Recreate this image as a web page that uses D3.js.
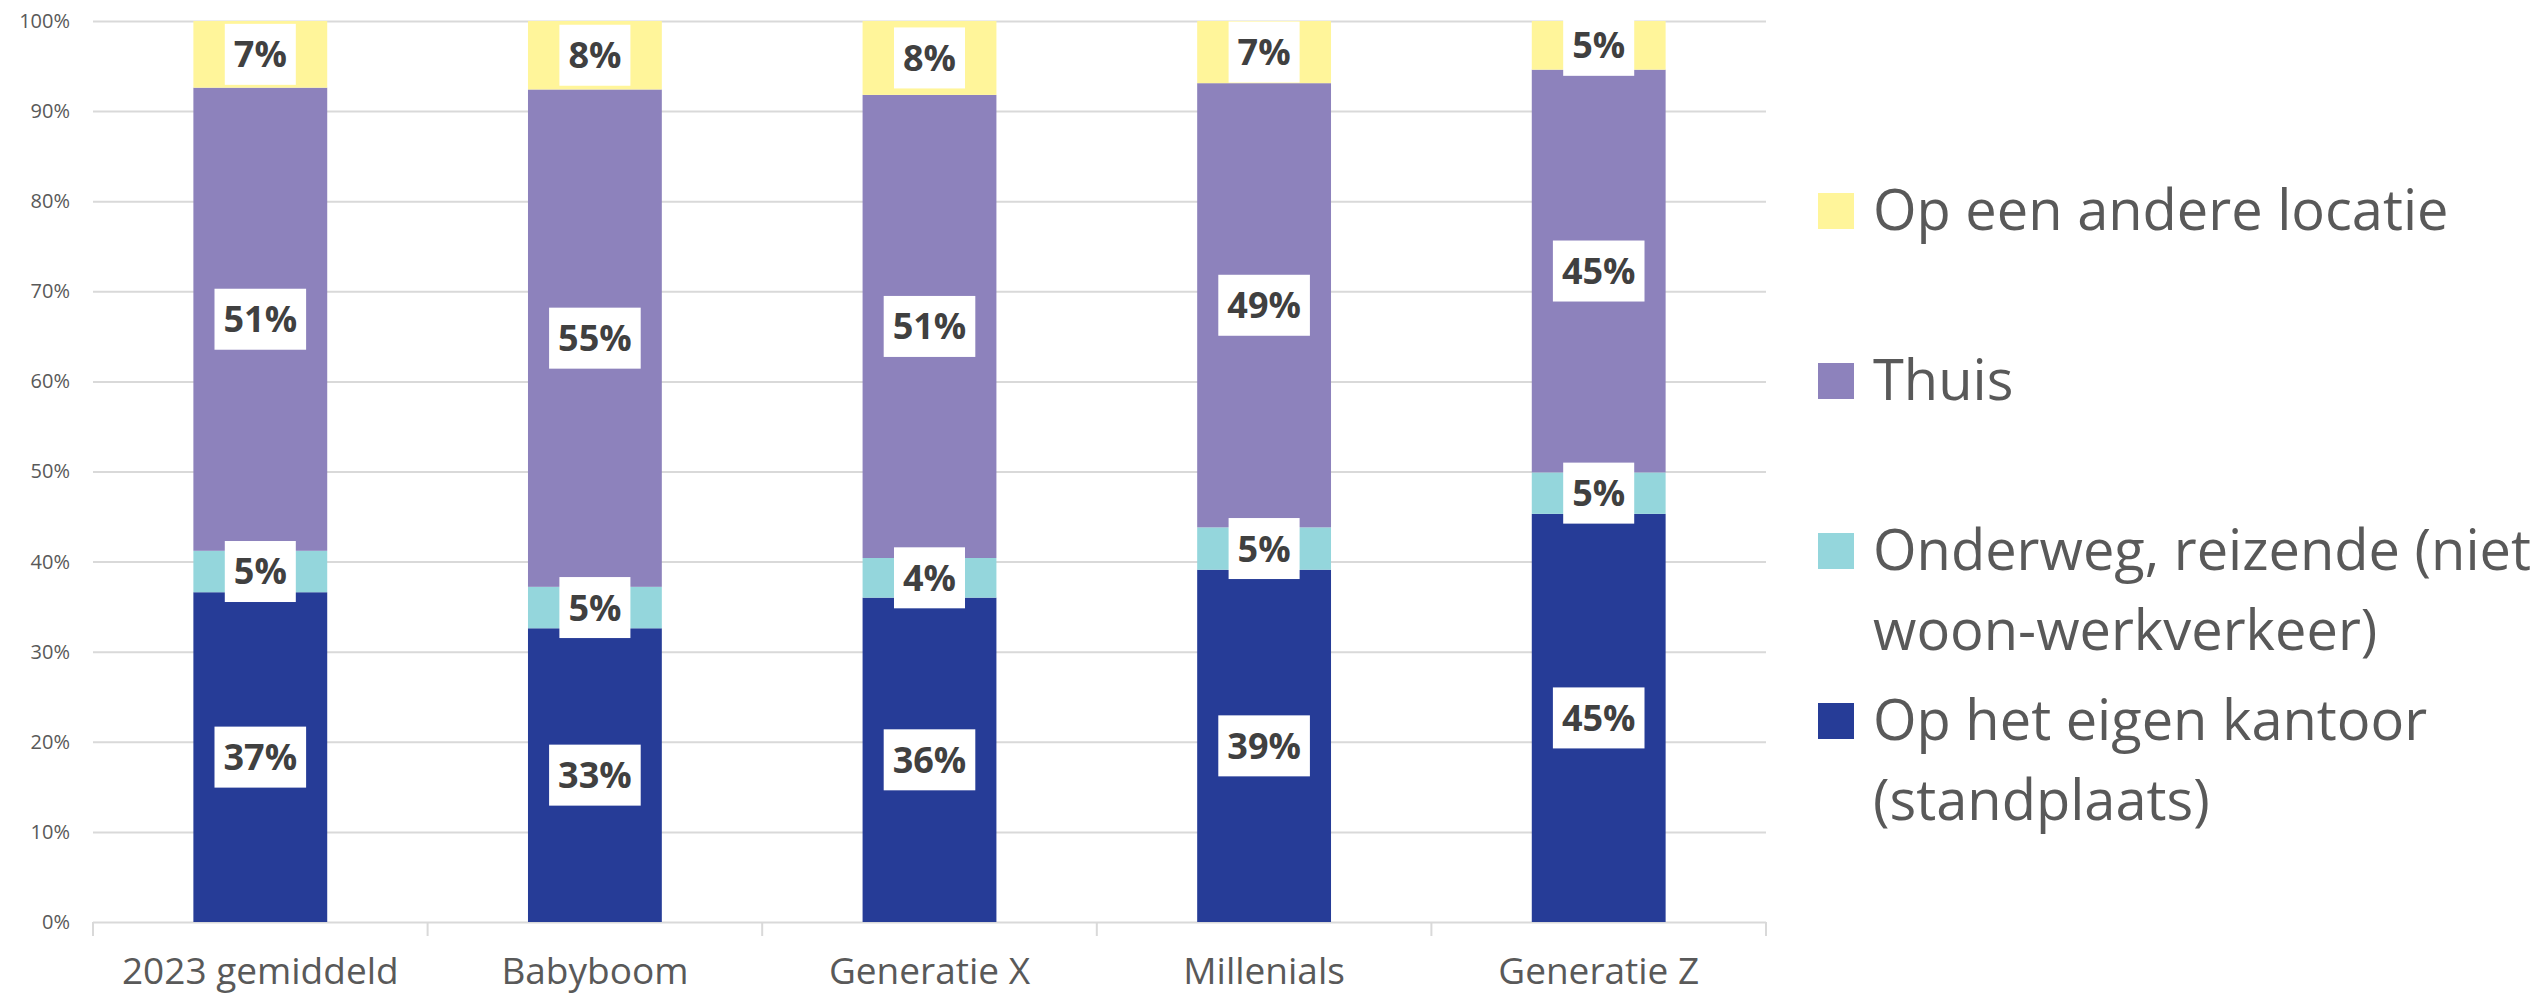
<!DOCTYPE html>
<html>
  <head>
    <meta charset="UTF-8" />
    <title>Werklocatie per generatie</title>
    <style>
      body { margin: 0; background: #fff; }
      svg { display: block; font-family: "Open Sans", sans-serif; }
    </style>
  </head>
  <body>
    <svg></svg>

    <script src="https://d3js.org/d3.v7.min.js"></script>
    <script>
      // data (percent of working time)
      const categories = ["2023 gemiddeld", "Babyboom", "Generatie X", "Millenials", "Generatie Z"];
      const seriesKeys = ["kantoor", "onderweg", "thuis", "andere"];
      const kantoor = [36.6, 32.6, 36.0, 39.1, 45.3];
      const onderweg = [4.6, 4.6, 4.4, 4.7, 4.6];
      const thuis = [51.4, 55.2, 51.4, 49.3, 44.7];
      const andere = [7.4, 7.6, 8.2, 6.9, 5.4];
      const yTicks = [0, 10, 20, 30, 40, 50, 60, 70, 80, 90, 100];

      // legend, top to bottom, with its line breaks
      const legendKeys = ["andere", "thuis", "onderweg", "kantoor"];
      const legendLines = [
        ["Op een andere locatie"],
        ["Thuis"],
        ["Onderweg, reizende (niet", "woon-werkverkeer)"],
        ["Op het eigen kantoor", "(standplaats)"],
      ];

      let width = 2542,
        height = 997;
      let svg = d3.select("svg").attr("width", width).attr("height", height);

      let rows = categories.map((c, i) => ({
        cat: c,
        kantoor: kantoor[i],
        onderweg: onderweg[i],
        thuis: thuis[i],
        andere: andere[i],
      }));

      let color = d3
        .scaleOrdinal()
        .domain(seriesKeys)
        .range(["#263c97", "#94d6dc", "#8d82bc", "#fff59a"]);

      let x = d3
        .scaleBand()
        .domain(categories)
        .range([93, 1766])
        .paddingInner(0.6)
        .paddingOuter(0.3);

      let y = d3.scaleLinear().domain([0, 100]).range([922, 21]);

      // gridlines + y labels
      let yAxis = svg
        .append("g")
        .attr("transform", "translate(93,0)")
        .call(
          d3
            .axisLeft(y)
            .tickValues(yTicks)
            .tickSize(-(1766 - 93))
            .tickPadding(23)
            .tickFormat((d) => d + "%")
        );
      yAxis.select(".domain").remove();
      yAxis.selectAll("line").attr("stroke", "#d9d9d9").attr("stroke-width", 2);
      yAxis
        .selectAll("text")
        .attr("fill", "#595959")
        .style("font-size", "20px")
        .style("font-family", "Open Sans, sans-serif");

      // category separators under the axis
      svg
        .append("g")
        .selectAll("line")
        .data(d3.range(categories.length + 1))
        .enter()
        .append("line")
        .attr("x1", (i) => x.range()[0] + i * x.step())
        .attr("x2", (i) => x.range()[0] + i * x.step())
        .attr("y1", y(0))
        .attr("y2", y(0) + 14)
        .attr("stroke", "#d9d9d9")
        .attr("stroke-width", 2);

      let stacked = d3.stack().keys(seriesKeys)(rows);

      let layers = svg
        .append("g")
        .selectAll("g")
        .data(stacked)
        .enter()
        .append("g")
        .attr("fill", (d) => color(d.key));

      layers
        .selectAll("rect")
        .data((d) => d)
        .enter()
        .append("rect")
        .attr("x", (d) => x(d.data.cat))
        .attr("width", x.bandwidth())
        .attr("y", (d) => y(d[1]))
        .attr("height", (d) => y(d[0]) - y(d[1]));

      // value labels in white boxes
      let labels = svg
        .append("g")
        .selectAll("g")
        .data(stacked.flatMap((s) => s.map((d) => ({ key: s.key, d: d }))))
        .enter()
        .append("g")
        .attr("transform", (o) => {
          let cx = x(o.d.data.cat) + x.bandwidth() / 2;
          let cy = (y(o.d[0]) + y(o.d[1])) / 2;
          return "translate(" + cx + "," + cy + ")";
        });

      labels
        .append("text")
        .attr("text-anchor", "middle")
        .attr("dy", "0.36em")
        .attr("fill", "#404040")
        .style("font-size", "36px")
        .style("font-weight", "bold")
        .text((o) => Math.round(o.d.data[o.key]) + "%");

      labels.each(function () {
        let g = d3.select(this);
        let w = g.select("text").node().getComputedTextLength();
        g.insert("rect", "text")
          .attr("x", -w / 2 - 9)
          .attr("y", -30.5)
          .attr("width", w + 18)
          .attr("height", 61)
          .attr("fill", "#fff");
      });

      // category labels
      svg
        .append("g")
        .selectAll("text")
        .data(categories)
        .enter()
        .append("text")
        .attr("x", (d) => x(d) + x.bandwidth() / 2)
        .attr("y", 984)
        .attr("text-anchor", "middle")
        .attr("fill", "#595959")
        .style("font-size", "37px")
        .text((d) => d);

      // legend
      let legend = svg
        .append("g")
        .selectAll("g")
        .data(legendKeys)
        .enter()
        .append("g")
        .attr("transform", (d, i) => "translate(1818," + (230 + i * 170) + ")");

      legend
        .append("rect")
        .attr("y", -37)
        .attr("width", 36)
        .attr("height", 36)
        .attr("fill", (d) => color(d));

      legend
        .append("text")
        .attr("fill", "#595959")
        .style("font-size", "56px")
        .selectAll("tspan")
        .data((d, i) => legendLines[i])
        .enter()
        .append("tspan")
        .attr("x", 55)
        .attr("y", (d, j) => j * 80)
        .text((d) => d);
    </script>
  </body>
</html>
